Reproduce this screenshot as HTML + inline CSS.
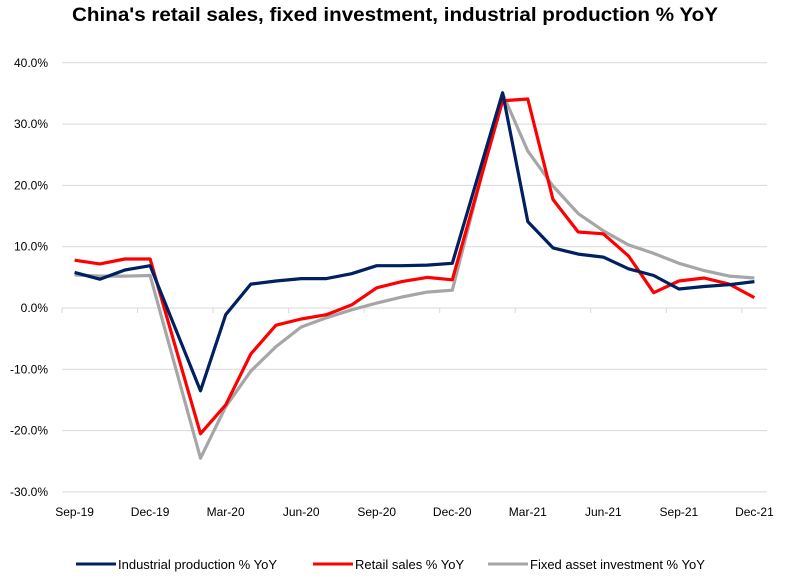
<!DOCTYPE html>
<html><head><meta charset="utf-8"><style>
body{margin:0;background:#fff;font-family:"Liberation Sans",Calibri,sans-serif;}
svg text{font-family:"Liberation Sans",sans-serif;}
</style></head><body>
<svg id="chart" width="785" height="580" xmlns="http://www.w3.org/2000/svg">
<text x="395" y="21" text-anchor="middle" font-size="19" font-weight="bold" fill="#000" textLength="646" lengthAdjust="spacingAndGlyphs">China's retail sales, fixed investment, industrial production % YoY</text>
<g id="grid"></g><g id="axes"></g><g id="series"></g>
<g font-size="13" fill="#000">
<g><line x1="76" y1="564" x2="116" y2="564" stroke="#002060" stroke-width="3"/><text x="118" y="569">Industrial production % YoY</text></g>
<g><line x1="313" y1="564" x2="353" y2="564" stroke="#ff0000" stroke-width="3"/><text x="355" y="569">Retail sales % YoY</text></g>
<g><line x1="488" y1="564" x2="528" y2="564" stroke="#a6a6a6" stroke-width="3"/><text x="530" y="569">Fixed asset investment % YoY</text></g>
</g>
</svg>
<script>
const categories=["Sep-19","Oct-19","Nov-19","Dec-19","Jan-20","Feb-20","Mar-20","Apr-20","May-20","Jun-20","Jul-20","Aug-20","Sep-20","Oct-20","Nov-20","Dec-20","Jan-21","Feb-21","Mar-21","Apr-21","May-21","Jun-21","Jul-21","Aug-21","Sep-21","Oct-21","Nov-21","Dec-21"];
const industrial=[5.8,4.7,6.2,6.9,null,-13.5,-1.1,3.9,4.4,4.8,4.8,5.6,6.9,6.9,7.0,7.3,null,35.1,14.1,9.8,8.8,8.3,6.4,5.3,3.1,3.5,3.8,4.3];
const retail=[7.8,7.2,8.0,8.0,null,-20.5,-15.8,-7.5,-2.8,-1.8,-1.1,0.5,3.3,4.3,5.0,4.6,null,33.8,34.1,17.7,12.4,12.1,8.5,2.5,4.4,4.9,3.9,1.7];
const fai=[5.4,5.2,5.2,5.3,null,-24.5,-16.1,-10.3,-6.3,-3.1,-1.6,-0.3,0.8,1.8,2.6,2.9,null,35.0,25.6,19.9,15.4,12.6,10.3,8.9,7.3,6.1,5.2,4.9];
const yTicks=[40,30,20,10,0,-10,-20,-30];
const NS="http://www.w3.org/2000/svg";
const x0=62,x1=767,slot=(x1-x0)/categories.length;
const xS=i=>x0+slot*(i+0.5);
const yS=v=>308-v*6.13;
function mk(t,a,p){const e=document.createElementNS(NS,t);for(const k in a)e.setAttribute(k,a[k]);p.appendChild(e);return e;}
const grid=document.getElementById('grid'),axes=document.getElementById('axes'),ser=document.getElementById('series');
yTicks.forEach(v=>{
 const l=mk('line',{x1:x0,x2:x1,y1:yS(v),y2:yS(v),stroke:'#d9d9d9','stroke-width':1},grid);
 
 
 const t=mk('text',{x:48,y:yS(v)+4,'text-anchor':'end','font-size':12,fill:'#000'},axes);
 t.textContent=v.toFixed(1)+'%';
 
 
});
for(let i=0;i<=categories.length;i+=3){
 const tx=x0+slot*i;
 const tk=mk('line',{x1:tx,x2:tx,y1:yS(0),y2:yS(0)+5,stroke:'#d9d9d9'},axes);
 
 
 if(i<categories.length){
  const t=mk('text',{x:xS(i),y:516,'text-anchor':'middle','font-size':12,fill:'#000'},axes);
  t.textContent=categories[i];
  
  
 }
}
function draw(data,color,name){
 const pts=[];data.forEach((v,i)=>{if(v!==null)pts.push(xS(i).toFixed(1)+','+yS(v).toFixed(1));});
 const p=mk('polyline',{points:pts.join(' '),fill:'none',stroke:color,'stroke-width':3.2,'stroke-linejoin':'round'},ser);
 
 
}
draw(fai,'#a6a6a6','fai-line');
draw(retail,'#ff0000','retail-line');
draw(industrial,'#002060','industrial-line');
</script>
</body></html>
